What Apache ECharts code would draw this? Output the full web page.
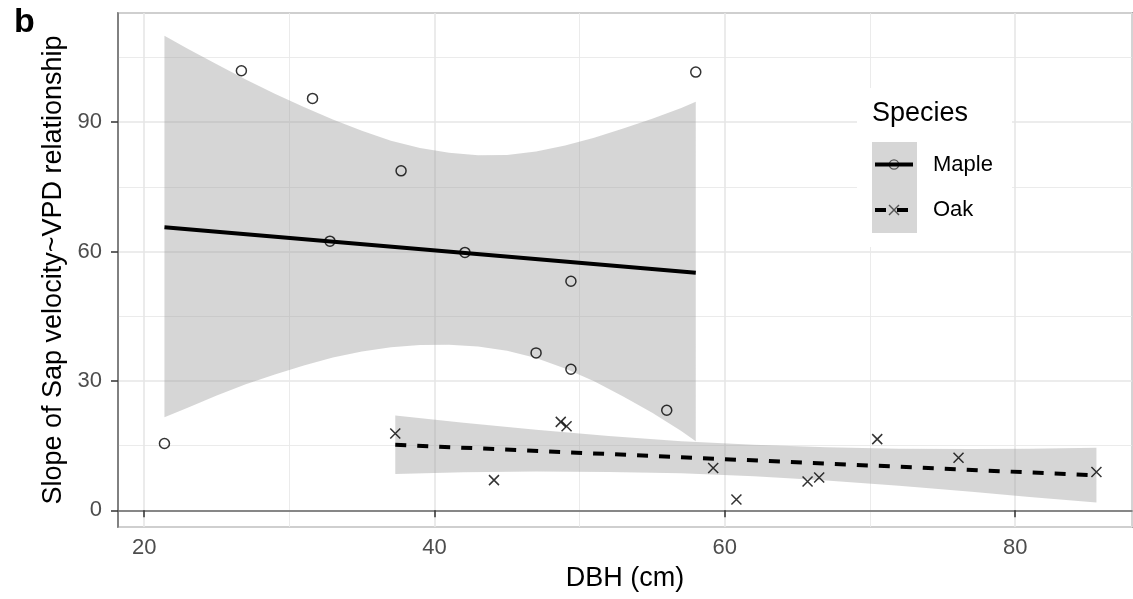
<!DOCTYPE html>
<html>
<head>
<meta charset="utf-8">
<title>Slope of sap velocity~VPD vs DBH</title>
<script src="https://cdn.jsdelivr.net/npm/echarts@6/dist/echarts.min.js"></script>
<style>
  html, body { margin: 0; padding: 0; background: #fff; }
  #chart { width: 1133px; height: 599px; }
</style>
</head>
<body>
<div id="chart"></div>
<script>
// observed trees
var mapleDBH = [21.4, 26.7, 31.6, 32.8, 37.7, 42.1, 47.0, 49.4, 49.4, 56.0, 58.0]
var mapleSlope = [15.5, 101.9, 95.5, 62.4, 78.7, 59.8, 36.5, 53.1, 32.7, 23.2, 101.6]
var oakDBH = [37.3, 44.1, 48.7, 49.1, 59.2, 60.8, 65.7, 66.5, 70.5, 76.1, 85.6]
var oakSlope = [17.8, 7.0, 20.5, 19.5, 9.8, 2.5, 6.7, 7.6, 16.5, 12.2, 8.9]

// linear fits (end points)
var mapleFitX = [21.4, 58.0]
var mapleFitY = [65.6, 55.1]
var oakFitX = [37.3, 85.6]
var oakFitY = [15.2, 8.1]

// confidence bands
var mapleBandX = [21.4, 23, 25, 27, 29, 31, 33, 35, 37, 39, 41, 43, 45, 47, 49, 51, 53, 55, 57, 58]
var mapleBandLo = [21.6, 23.8, 26.6, 29.2, 31.5, 33.6, 35.4, 36.8, 37.8, 38.3, 38.4, 38.0, 37.0, 35.3, 32.9, 29.9, 26.4, 22.6, 18.4, 16.0]
var mapleBandHi = [110.0, 107.0, 103.4, 99.9, 96.6, 93.5, 90.6, 88.0, 85.7, 84.0, 82.9, 82.3, 82.4, 83.2, 84.6, 86.4, 88.5, 90.8, 93.3, 94.7]
var oakBandX = [37.3, 42, 47, 52, 57, 62, 67, 72, 77, 81, 85.6]
var oakBandLo = [8.4, 8.8, 9.0, 8.9, 8.6, 7.9, 6.9, 5.7, 4.3, 3.1, 1.8]
var oakBandHi = [22.0, 20.3, 18.7, 17.2, 16.0, 15.2, 14.6, 14.3, 14.2, 14.3, 14.5]

var FONT = '"Liberation Sans", Arial, sans-serif'
var CROSS = 'path://M0,0L10,10M10,0L0,10'

var myChart = echarts.init(document.getElementById('chart'))

function zip(xs, ys) {
  return xs.map(function(x, i) { return [x, ys[i]] })
}

function bandRows(xs, lo, hi) {
  return xs.map(function(x, i) { return [x, lo[i], hi[i]] })
}

// one polygon for the whole ribbon, built from the band arrays
function bandRenderer(rows) {
  return function(params, api) {
    if (params.dataIndex !== 0) return
    var pts = []
    for (var i = 0; i < rows.length; i++) pts.push(api.coord([rows[i][0], rows[i][2]]))
    for (var j = rows.length - 1; j >= 0; j--) pts.push(api.coord([rows[j][0], rows[j][1]]))
    return {
      type: 'polygon',
      shape: { points: pts },
      style: { fill: 'rgba(153,153,153,0.4)' }
    }
  }
}

var mapleBand = bandRows(mapleBandX, mapleBandLo, mapleBandHi)
var oakBand = bandRows(oakBandX, oakBandLo, oakBandHi)

var option = {
  backgroundColor: '#fff',
  animation: false,
  title: {
    text: 'b',
    left: 14,
    top: 6,
    padding: 0,
    textStyle: { fontFamily: FONT, fontSize: 34, fontWeight: 'bold', color: '#000' }
  },
  grid: {
    left: 118,
    right: 1,
    top: 13,
    bottom: 72,
    show: true,
    borderColor: '#666',
    borderWidth: 1.5,
    backgroundColor: 'transparent'
  },
  xAxis: {
    type: 'value',
    min: 18.2,
    max: 88.05,
    splitNumber: 4,
    name: 'DBH (cm)',
    nameLocation: 'middle',
    nameGap: 38,
    nameTextStyle: { fontFamily: FONT, fontSize: 27, color: '#000' },
    axisLine: { show: true, lineStyle: { color: '#666', width: 1.5 } },
    axisTick: { show: true, length: 7, lineStyle: { color: '#333', width: 1.5 } },
    axisLabel: {
      margin: 10,
      fontFamily: FONT,
      fontSize: 22,
      color: '#4D4D4D',
      showMinLabel: false,
      showMaxLabel: false
    },
    splitLine: { show: true, lineStyle: { color: '#E6E6E6', width: 1.6 } },
    minorTick: { show: false, splitNumber: 2 },
    minorSplitLine: { show: true, lineStyle: { color: '#E9E9E9', width: 0.9 } }
  },
  yAxis: {
    type: 'value',
    min: -3.87,
    max: 115.3,
    splitNumber: 4,
    name: 'Slope of Sap velocity~VPD relationship',
    nameLocation: 'middle',
    nameRotate: 90,
    nameGap: 46,
    nameTextStyle: { fontFamily: FONT, fontSize: 27, color: '#000' },
    axisLine: { show: true, lineStyle: { color: '#666', width: 1.5 } },
    axisTick: { show: true, length: 7, lineStyle: { color: '#333', width: 1.5 } },
    axisLabel: {
      margin: 16,
      fontFamily: FONT,
      fontSize: 22,
      color: '#4D4D4D',
      showMinLabel: false,
      showMaxLabel: false
    },
    splitLine: { show: true, lineStyle: { color: '#E6E6E6', width: 1.6 } },
    minorTick: { show: false, splitNumber: 2 },
    minorSplitLine: { show: true, lineStyle: { color: '#E9E9E9', width: 0.9 } }
  },
  series: [
    {
      name: 'Maple',
      type: 'scatter',
      data: zip(mapleDBH, mapleSlope),
      symbol: 'circle',
      symbolSize: 10,
      itemStyle: { color: 'rgba(0,0,0,0)', borderColor: '#000', borderWidth: 1.5 }
    },
    {
      name: 'Oak',
      type: 'scatter',
      data: zip(oakDBH, oakSlope),
      symbol: CROSS,
      symbolSize: 10,
      itemStyle: { color: 'rgba(0,0,0,0)', borderColor: '#000', borderWidth: 1.5 }
    },
    {
      name: 'Maple band',
      type: 'custom',
      data: mapleBand,
      encode: { x: 0, y: [1, 2] },
      renderItem: bandRenderer(mapleBand),
      silent: true
    },
    {
      name: 'Oak band',
      type: 'custom',
      data: oakBand,
      encode: { x: 0, y: [1, 2] },
      renderItem: bandRenderer(oakBand),
      silent: true
    },
    {
      name: 'Maple fit',
      type: 'line',
      data: zip(mapleFitX, mapleFitY),
      showSymbol: false,
      lineStyle: { color: '#000', width: 4 }
    },
    {
      name: 'Oak fit',
      type: 'line',
      data: zip(oakFitX, oakFitY),
      showSymbol: false,
      lineStyle: { color: '#000', width: 4, type: [11, 11] }
    }
  ],
  // ggplot-style legend box inside the panel
  graphic: [
    { type: 'rect', z: 100, shape: { x: 857, y: 88, width: 155, height: 159 }, style: { fill: '#fff' } },
    { type: 'text', z: 101, x: 872, y: 114, style: { text: 'Species', font: '27px ' + FONT, fill: '#000', verticalAlign: 'middle' } },
    { type: 'rect', z: 101, shape: { x: 872, y: 142, width: 45, height: 91 }, style: { fill: '#D6D6D6' } },
    { type: 'circle', z: 102, shape: { cx: 894, cy: 164.5, r: 4.6 }, style: { fill: 'none', stroke: '#555', lineWidth: 1.4 } },
    { type: 'line', z: 103, shape: { x1: 875, y1: 164.5, x2: 913, y2: 164.5 }, style: { stroke: '#000', lineWidth: 4 } },
    { type: 'line', z: 102, shape: { x1: 889, y1: 205, x2: 899, y2: 215 }, style: { stroke: '#555', lineWidth: 1.4 } },
    { type: 'line', z: 102, shape: { x1: 899, y1: 205, x2: 889, y2: 215 }, style: { stroke: '#555', lineWidth: 1.4 } },
    { type: 'line', z: 103, shape: { x1: 875, y1: 210, x2: 913, y2: 210 }, style: { stroke: '#000', lineWidth: 4, lineDash: [11, 11] } },
    { type: 'text', z: 101, x: 933, y: 165, style: { text: 'Maple', font: '22px ' + FONT, fill: '#000', verticalAlign: 'middle' } },
    { type: 'text', z: 101, x: 933, y: 210, style: { text: 'Oak', font: '22px ' + FONT, fill: '#000', verticalAlign: 'middle' } }
  ]
}

myChart.setOption(option)
window.onresize = function() {
  myChart.resize()
}
</script>
</body>
</html>
